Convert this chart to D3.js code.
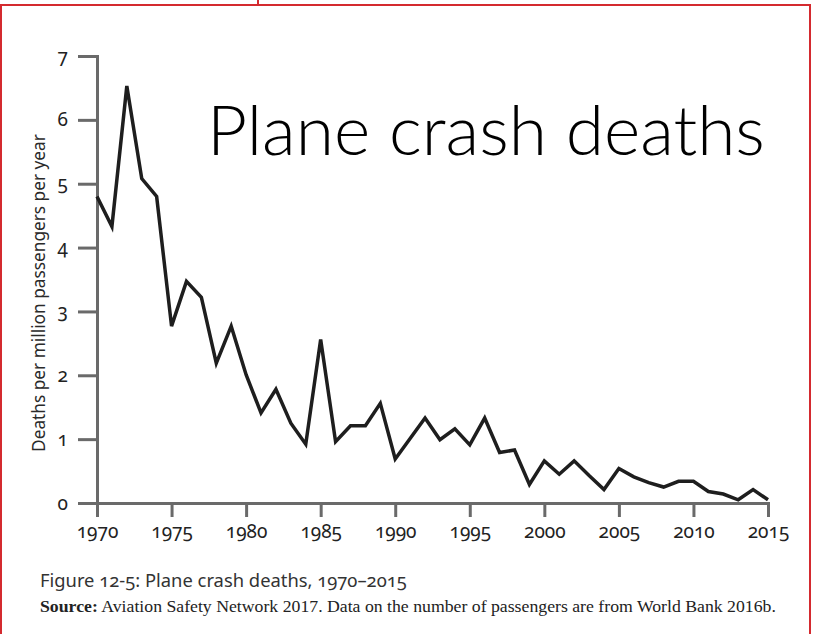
<!DOCTYPE html>
<html>
<head>
<meta charset="utf-8">
<script src="https://cdnjs.cloudflare.com/ajax/libs/d3/7.8.5/d3.min.js"></script>
<style>
  body { margin: 0; background: #fff; }
  svg { display: block; }
  .axis path, .axis line { stroke: #6a6a6a; stroke-width: 3; }
  .axis text { font-family: "Noto Sans", "Open Sans", sans-serif; font-size: 19px; fill: #222;
               font-variant-numeric: oldstyle-nums; }
</style>
</head>
<body>
<div id="chart"></div>
<script>
// years and deaths per million passengers
var years = [1970, 1971, 1972, 1973, 1974, 1975, 1976, 1977, 1978, 1979,
             1980, 1981, 1982, 1983, 1984, 1985, 1986, 1987, 1988, 1989,
             1990, 1991, 1992, 1993, 1994, 1995, 1996, 1997, 1998, 1999,
             2000, 2001, 2002, 2003, 2004, 2005, 2006, 2007, 2008, 2009,
             2010, 2011, 2012, 2013, 2014, 2015];
var deaths = [4.80, 4.33, 6.53, 5.08, 4.80, 2.77, 3.47, 3.22, 2.19, 2.77,
              2.01, 1.41, 1.78, 1.25, 0.92, 2.56, 0.96, 1.21, 1.21, 1.56,
              0.69, 1.01, 1.33, 0.99, 1.16, 0.91, 1.33, 0.79, 0.83, 0.29,
              0.66, 0.45, 0.66, 0.43, 0.21, 0.54, 0.41, 0.32, 0.25, 0.34,
              0.34, 0.18, 0.14, 0.05, 0.21, 0.05];
var xTicks = [1970, 1975, 1980, 1985, 1990, 1995, 2000, 2005, 2010, 2015];
var yTicks = [0, 1, 2, 3, 4, 5, 6, 7];

var titleText = "Plane crash deaths";
var yLabel = "Deaths per million passengers per year";
var captionText = "Figure 12-5: Plane crash deaths, 1970\u20132015";
var sourceBold = "Source:";
var sourceText = " Aviation Safety Network 2017. Data on the number of passengers are from World Bank 2016b.";

var W = 815, H = 634;
var margin = {top: 56, left: 97},
    width = 671, height = 447;

var svg = d3.select("#chart").append("svg")
    .attr("width", W)
    .attr("height", H);

// red frame around the slide
svg.append("rect")
    .attr("x", 1).attr("y", 5)
    .attr("width", 809).attr("height", 660)
    .attr("fill", "none")
    .attr("stroke", "#d42a2f")
    .attr("stroke-width", 2);
svg.append("line")
    .attr("x1", 258).attr("x2", 258).attr("y1", 0).attr("y2", 5)
    .attr("stroke", "#d42a2f").attr("stroke-width", 2);

var g = svg.append("g")
    .attr("transform", "translate(" + margin.left + "," + margin.top + ")");

var x = d3.scaleLinear().domain([1970, 2015]).range([0, width]);
var y = d3.scaleLinear().domain([0, 7]).range([height, 0]);

// axes
g.append("g")
    .attr("class", "axis")
    .call(d3.axisLeft(y).tickValues(yTicks).tickSize(19).tickPadding(10).tickFormat(d3.format("d")));

g.append("g")
    .attr("class", "axis")
    .attr("transform", "translate(0," + height + ")")
    .call(d3.axisBottom(x).tickValues(xTicks).tickSize(14).tickPadding(8).tickFormat(d3.format("d")));

g.selectAll(".axis .domain").attr("fill", "none");

// the line
var line = d3.line()
    .x(function(d, i) { return x(years[i]); })
    .y(function(d) { return y(d); });

g.append("path")
    .datum(deaths)
    .attr("fill", "none")
    .attr("stroke", "#1e1e1e")
    .attr("stroke-width", 3.5)
    .attr("stroke-linejoin", "miter")
    .attr("d", line);

// scale a text's font size so it spans the wanted width
function fit(sel, target) {
  var fs = parseFloat(sel.attr("font-size"));
  var w = sel.node().getComputedTextLength();
  sel.attr("font-size", (fs * target / w).toFixed(2));
}

// y axis title
var yt = svg.append("text")
    .attr("transform", "translate(45,293) rotate(-90)")
    .attr("text-anchor", "middle")
    .attr("font-family", "'Noto Sans', 'Open Sans', sans-serif")
    .attr("font-size", 17)
    .attr("fill", "#2a2a2a")
    .text(yLabel);
fit(yt, 318);

// big title
var tt = svg.append("text")
    .attr("x", 207).attr("y", 155)
    .attr("font-family", "Lato, 'Open Sans', sans-serif")
    .attr("font-weight", 300)
    .attr("font-size", 72)
    .attr("fill", "#000")
    .text(titleText);
fit(tt, 558);

// caption
var cap = svg.append("text")
    .attr("x", 40).attr("y", 587)
    .attr("font-family", "'Noto Sans', 'Open Sans', sans-serif")
    .attr("font-size", 20)
    .attr("fill", "#333")
    .style("font-variant-numeric", "oldstyle-nums")
    .text(captionText);
fit(cap, 367);

var src = svg.append("text")
    .attr("x", 40).attr("y", 612)
    .attr("font-family", "'Liberation Serif', 'DejaVu Serif', serif")
    .attr("font-size", 15)
    .attr("fill", "#222");
src.append("tspan").attr("font-weight", "bold").text(sourceBold);
src.append("tspan").text(sourceText);
fit(src, 736);
</script>
</body>
</html>
